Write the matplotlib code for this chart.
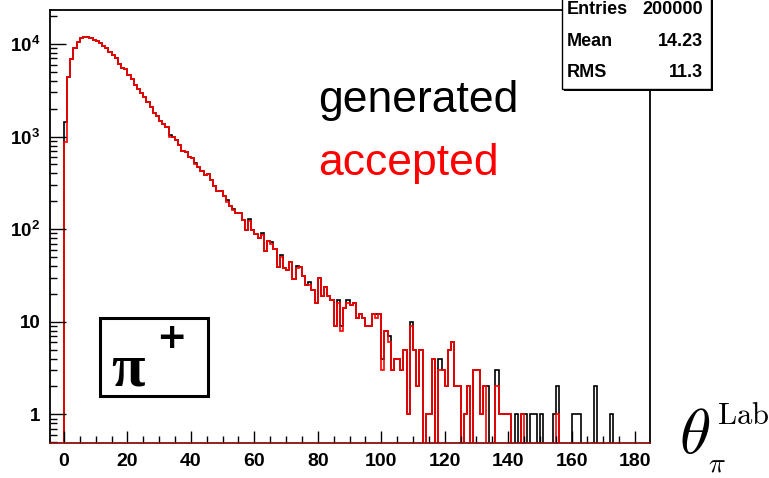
import numpy as np
import matplotlib
matplotlib.use("Agg")
import matplotlib.pyplot as plt
from matplotlib.patches import Rectangle
from matplotlib.ticker import MultipleLocator, LogLocator, NullFormatter

plt.rcParams['font.family'] = ['Liberation Sans', 'DejaVu Sans']
plt.rcParams['font.weight'] = 'bold'
plt.rcParams['mathtext.fontset'] = 'custom'
plt.rcParams['mathtext.rm'] = 'Liberation Sans:bold'
plt.rcParams['mathtext.bf'] = 'Liberation Sans:bold'
plt.rcParams['mathtext.it'] = 'Liberation Sans:bold:italic'

# bin contents, bins of width 1 starting at theta = 0
generated = [
    1445, 4430, 6830, 8990, 10430, 11530, 11800, 11900, 11530, 11130,
    10770, 10160, 9590, 8980, 8260, 7600, 7000, 6030, 5460, 5330,
    4620, 4150, 3600, 3240, 2930, 2690, 2380, 2100, 1820, 1680,
    1480, 1365, 1258, 1040, 980, 930, 810, 700, 675, 605,
    580, 520, 472, 424, 383, 393, 339, 292, 258, 261,
    227, 206, 177, 167, 150, 150, 127, 99, 129, 99,
    88, 81, 90, 58, 75, 72, 61, 39, 52, 38,
    36, 44, 29, 40, 39, 31, 25, 27, 22, 16,
    30, 19, 24, 19, 17, 9, 17, 9, 14, 17,
    15, 16, 11, 12, 11, 9, 9, 12, 12, 12,
    4, 8, 7, 3, 4, 4, 3, 5, 1, 10,
    5, 2, 5, 0, 1, 1, 4, 0, 4, 3,
    2, 5, 6, 2, 2, 0, 1, 2, 0, 3,
    3, 1, 2, 2, 0, 0, 3, 1, 1, 1,
    1, 0, 1, 0, 1, 1, 0, 1, 1, 0,
    1, 0, 0, 0, 1, 2, 0, 0, 0, 0,
    1, 1, 1, 0, 0, 0, 0, 2, 0, 0,
    0, 0, 1,
]

accepted = [
    880, 4430, 6830, 8990, 10430, 11530, 11800, 11900, 11530, 11130,
    10770, 10160, 9590, 8980, 8260, 7600, 7000, 6030, 5460, 5330,
    4620, 4150, 3600, 3240, 2930, 2690, 2380, 2100, 1820, 1680,
    1480, 1365, 1258, 1000, 980, 930, 810, 700, 675, 605,
    580, 500, 472, 424, 383, 393, 339, 292, 258, 261,
    227, 198, 177, 160, 150, 150, 127, 99, 122, 99,
    88, 81, 86, 58, 75, 69, 61, 39, 50, 38,
    36, 44, 29, 38, 39, 31, 25, 25, 22, 16,
    30, 19, 24, 19, 17, 9, 16, 8, 14, 16,
    15, 16, 11, 12, 11, 9, 9, 12, 11, 12,
    3, 8, 6, 3, 4, 4, 3, 5, 1, 9,
    5, 2, 5, 0, 1, 1, 4, 0, 3, 3,
    2, 5, 6, 2, 2, 0, 1, 2, 0, 3,
    3, 1, 2, 0, 0, 0, 2, 1, 1, 1,
    1, 0, 0, 0, 1, 0, 0, 0, 0, 0,
    0, 0, 0, 0, 0, 1, 0, 0, 0, 0,
    0, 0, 0, 0, 0, 0, 0, 0, 0, 0,
    0, 0, 0,
]

stats_labels = ["Entries", "Mean", "RMS"]
stats_values = ["200000", "14.23", "11.3"]

y_ticks = [1, 10, 100, 1000, 10000]
y_ticklabels = ["1", "10", r"$10^{2}$", r"$10^{3}$", r"$10^{4}$"]

W, H = 769, 478


def fx(px):
    return px / W


def fy(py):
    return 1 - py / H


fig = plt.figure(figsize=(W / 100, H / 100), dpi=100)
ax = fig.add_axes([fx(50), fy(443), fx(650) - fx(50), fy(10) - fy(443)])

edges = np.arange(len(generated) + 1)
floor = 1e-3
ax.stairs(np.clip(generated, floor, None), edges, color='black', lw=1.2, baseline=floor)
ax.stairs(np.clip(accepted, floor, None), edges, color='red', lw=1.2, baseline=floor)

ax.set_yscale('log')
ax.set_xlim(-4.4, 184.7)
ax.set_ylim(0.49, 23300)

ax.xaxis.set_major_locator(MultipleLocator(20))
ax.xaxis.set_minor_locator(MultipleLocator(5))
ax.set_yticks(y_ticks)
ax.set_yticklabels(y_ticklabels)
ax.yaxis.set_minor_locator(LogLocator(base=10, subs=range(2, 10)))
ax.yaxis.set_minor_formatter(NullFormatter())

ax.tick_params(axis='y', which='major', direction='in', length=11.5, width=1, pad=7, labelsize=13.5)
ax.tick_params(axis='y', which='minor', direction='in', length=5, width=1)
ax.tick_params(axis='x', which='major', direction='in', length=8.5, width=1, pad=7, labelsize=14)
ax.tick_params(axis='x', which='minor', direction='in', length=5, width=1)
ax.tick_params(top=False, right=False, which='both')
for s in ax.spines.values():
    s.set_linewidth(1.3)
ax.spines['bottom'].set_color('#8a1010')

# legend-like labels
fig.text(fx(318), fy(112), 'generated', fontsize=32, color='black', weight='normal', va='baseline')
fig.text(fx(318), fy(175), 'accepted', fontsize=32, color='red', weight='normal', va='baseline')

# particle box
fig.add_artist(Rectangle((fx(100), fy(396)), fx(208) - fx(100), fy(318) - fy(396),
                         transform=fig.transFigure, fill=False, lw=2.2, ec='black'))
fig.text(fx(111), fy(385), '\u03c0', fontsize=44, weight='bold', family='Liberation Serif', va='baseline')
fig.text(fx(171), fy(338), '+', fontsize=26, weight='bold', family='DejaVu Sans', ha='center', va='center')

# stats box
fig.add_artist(Rectangle((fx(564), fy(91)), fx(713) - fx(564), fy(-3) - fy(91),
                         transform=fig.transFigure, fc='black', ec='black', lw=0))
fig.add_artist(Rectangle((fx(562), fy(89)), fx(711) - fx(562), fy(-5) - fy(89),
                         transform=fig.transFigure, fc='white', ec='black', lw=1))
rows_y = [14, 45.5, 77]
for lab, val, ry in zip(stats_labels, stats_values, rows_y):
    fig.text(fx(567), fy(ry), lab, fontsize=13, weight='bold', va='baseline')
    fig.text(fx(703), fy(ry), val, fontsize=13, weight='bold', va='baseline', ha='right')

# axis title, theta with sub/superscript placed like the ROOT latex
fig.text(fx(679), fy(453), r'$\theta$', fontsize=46, math_fontfamily='cm', va='baseline', weight='normal')
fig.text(fx(717), fy(424), r'$\mathrm{Lab}$', fontsize=22, math_fontfamily='cm', va='baseline', weight='normal')
fig.text(fx(708), fy(471), r'$\pi$', fontsize=20, math_fontfamily='cm', va='baseline', weight='normal')

fig.savefig('out.png', dpi=100)
